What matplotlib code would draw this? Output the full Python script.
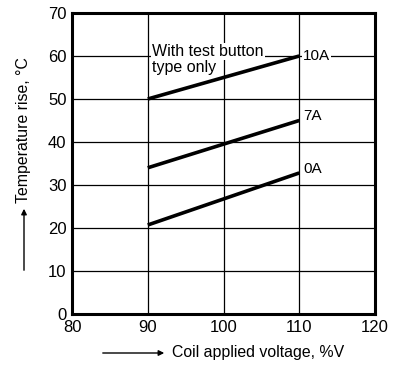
import matplotlib
matplotlib.use("Agg")
import matplotlib.pyplot as plt

plt.rcParams['font.family'] = ['Liberation Sans', 'DejaVu Sans']

voltage = [90, 110]
rise_10a = [50, 60]
rise_7a = [34, 45]
rise_0a = [20.7, 32.8]
series_labels = ["10A", "7A", "0A"]
xticks = [80, 90, 100, 110, 120]
yticks = [0, 10, 20, 30, 40, 50, 60, 70]

W, H = 405, 367
fig = plt.figure(figsize=(W / 100, H / 100), dpi=100)
ax = fig.add_axes([72 / W, 1 - 314 / H, (375 - 72) / W, (314 - 13) / H])

ax.set_xlim(80, 120)
ax.set_ylim(0, 70)
ax.set_xticks(xticks)
ax.set_yticks(yticks)
ax.tick_params(length=0, labelsize=12, pad=4)
ax.grid(True, color='black', linewidth=0.9, zorder=0)
ax.set_axisbelow(True)
for s in ax.spines.values():
    s.set_linewidth(2.2)

for ys in (rise_10a, rise_7a, rise_0a):
    ax.plot(voltage, ys, color='black', linewidth=2.6, solid_capstyle='butt', zorder=3)

bb = dict(facecolor='white', edgecolor='none', pad=0.6)
ax.text(110.5, rise_10a[1], series_labels[0], fontsize=11, va='center', ha='left', bbox=bb, zorder=4)
ax.text(110.5, rise_7a[1] + 1.0, series_labels[1], fontsize=11, va='center', ha='left', bbox=bb, zorder=4)
ax.text(110.5, rise_0a[1] + 1.0, series_labels[2], fontsize=11, va='center', ha='left', bbox=bb, zorder=4)
ax.text(90.6, 61.0, "With test button", fontsize=11.5, va='center', ha='left', bbox=bb, zorder=4)
ax.text(90.6, 57.3, "type only", fontsize=11.5, va='center', ha='left',
        bbox=dict(facecolor='white', edgecolor='none', pad=0.2), zorder=2)

# axis labels with arrows (figure pixel coordinates)
fig.text(24 / W, 1 - 130 / H, "Temperature rise, \u00b0C", rotation=90, fontsize=11.4,
         ha='center', va='center')
fig.add_artist(matplotlib.patches.FancyArrowPatch(
    (24 / W, 1 - 273 / H), (24 / W, 1 - 206 / H), transform=fig.transFigure,
    arrowstyle='-|>', mutation_scale=8, color='black', linewidth=1))
fig.text(172 / W, 1 - 353 / H, "Coil applied voltage, %V", fontsize=11.4,
         ha='left', va='center')
fig.add_artist(matplotlib.patches.FancyArrowPatch(
    (100 / W, 1 - 353 / H), (167 / W, 1 - 353 / H), transform=fig.transFigure,
    arrowstyle='-|>', mutation_scale=8, color='black', linewidth=1))

fig.savefig("out.png", dpi=100)
